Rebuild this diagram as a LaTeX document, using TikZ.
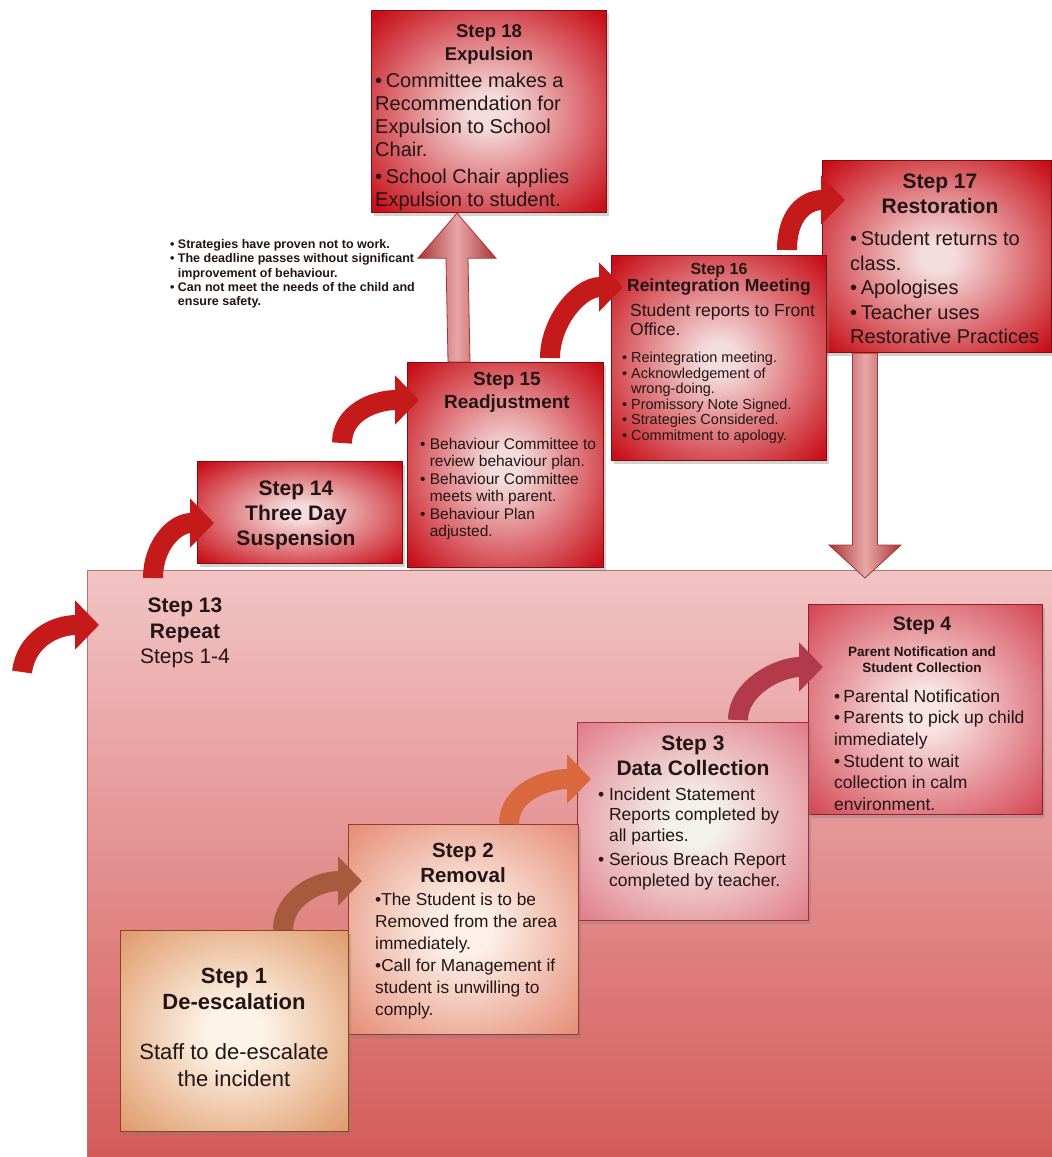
\documentclass[tikz,border=0pt]{standalone}
\usepackage{fontspec}
\setmainfont{Liberation Sans}
\usetikzlibrary{arrows.meta,shadows,calc}
\definecolor{txtc}{HTML}{231515}
\definecolor{gRin}{HTML}{F4DCDC}
\definecolor{gRout}{HTML}{C80E18}
\definecolor{g4in}{HTML}{F8E4E4}
\definecolor{g4out}{HTML}{D03644}
\definecolor{g3in}{HTML}{F4F0EC}
\definecolor{g3out}{HTML}{DC6070}
\definecolor{g2in}{HTML}{FCF0E8}
\definecolor{g2out}{HTML}{E0745A}
\definecolor{g1in}{HTML}{FDF4E8}
\definecolor{g1out}{HTML}{D8844C}
\definecolor{bdR}{HTML}{7E0D0D}
\definecolor{bd4}{HTML}{8E2030}
\definecolor{bd3}{HTML}{9A3040}
\definecolor{bd2}{HTML}{9A3A28}
\definecolor{bd1}{HTML}{8A4418}
\definecolor{pinkT}{HTML}{F2C4C4}
\definecolor{pinkB}{HTML}{D45A5A}
\definecolor{pinkBd}{HTML}{B87070}
\definecolor{arrR}{HTML}{C41A1A}
\definecolor{arr1}{HTML}{A85A3C}
\definecolor{arr2}{HTML}{D9683F}
\definecolor{arr3}{HTML}{B33A4A}
\definecolor{blkE}{HTML}{A83434}
\definecolor{blkM}{HTML}{E8A8A8}
\pgfdeclareradialshading{glowR}{\pgfpoint{0bp}{0bp}}{color(0bp)=(gRin); color(4bp)=(gRin); color(34bp)=(gRout); color(50bp)=(gRout)}
\pgfdeclareradialshading{glowF}{\pgfpoint{0bp}{0bp}}{color(0bp)=(g4in); color(5bp)=(g4in); color(38bp)=(g4out); color(50bp)=(g4out)}
\pgfdeclareradialshading{glowT}{\pgfpoint{0bp}{0bp}}{color(0bp)=(g3in); color(6bp)=(g3in); color(42bp)=(g3out); color(50bp)=(g3out)}
\pgfdeclareradialshading{glowW}{\pgfpoint{0bp}{0bp}}{color(0bp)=(g2in); color(6bp)=(g2in); color(42bp)=(g2out); color(50bp)=(g2out)}
\pgfdeclareradialshading{glowO}{\pgfpoint{0bp}{0bp}}{color(0bp)=(g1in); color(6bp)=(g1in); color(42bp)=(g1out); color(50bp)=(g1out)}
\newcommand\fsz[2]{\fontsize{#1}{#2}\selectfont}
\newcommand\blt{\makebox[0.62em][l]{•}}
\newcommand\hng{\hspace*{0.62em}}
\newcommand\bul{•\hspace{0.18em}}
\begin{document}
\begin{tikzpicture}[x=1pt,y=-1pt,
  boxstyle/.style 2 args={anchor=north west, draw=#1, line width=1.2pt, shade, shading=#2,
    drop shadow={shadow xshift=2pt, shadow yshift=-3pt, opacity=0.35}},
  ttl/.style={text=txtc, inner sep=0pt, align=center, anchor=north},
  bdy/.style={text=txtc, inner sep=0pt, align=left, anchor=north west},
  curarrow/.style={draw=#1, line width=20pt, -{Triangle[length=24pt,width=48pt]}},
  blockarrow/.style={draw=blkE, line width=0.8pt, left color=blkE, right color=blkE, middle color=blkM}
]
\useasboundingbox (0,0) rectangle (1052,1157);
\fill[white] (0,0) rectangle (1052,1157);

% big pink region (Step 13)
\node[anchor=north west, draw=pinkBd, line width=1pt, top color=pinkT, bottom color=pinkB,
  minimum width=966pt, minimum height=588pt, inner sep=0pt] (s13) at (87,570) {};

% boxes
\node[boxstyle={bdR}{glowR}, minimum width=235pt, minimum height=202pt] (s18) at (371,10) {};
\node[boxstyle={bdR}{glowR}, minimum width=229pt, minimum height=192pt] (s17) at (822,160) {};
\node[boxstyle={bdR}{glowR}, minimum width=215pt, minimum height=205pt] (s16) at (611,255) {};
\node[boxstyle={bdR}{glowR}, minimum width=196pt, minimum height=205pt] (s15) at (407,362) {};
\node[boxstyle={bdR}{glowR}, minimum width=205pt, minimum height=102pt] (s14) at (197,461) {};
\node[boxstyle={bd4}{glowF}, minimum width=234pt, minimum height=210pt] (s4) at (808,604) {};
\node[boxstyle={bd3}{glowT}, minimum width=231pt, minimum height=198pt] (s3) at (577,722) {};
\node[boxstyle={bd2}{glowW}, minimum width=230pt, minimum height=210pt] (s2) at (348,824) {};
\node[boxstyle={bd1}{glowO}, minimum width=228pt, minimum height=201pt] (s1) at (120,930) {};

% connector end points
\coordinate (a0s) at (22,672);
\coordinate (a0e) at ($(s13.north west)+(12,55)$);
\coordinate (a14s) at ($(s13.north west)+(66,8)$);
\coordinate (a14e) at ($(s14.north west)+(17,62)$);
\coordinate (a15s) at ($(s14.north west)+(145,-18)$);
\coordinate (a15e) at ($(s15.north west)+(12,38)$);
\coordinate (a16s) at ($(s15.north west)+(143,-4)$);
\coordinate (a16e) at ($(s16.north west)+(12,32)$);
\coordinate (a17s) at ($(s16.north west)+(176,-5)$);
\coordinate (a17e) at ($(s17.north west)+(23,40)$);
\coordinate (a2s) at ($(s1.north west)+(163,0)$);
\coordinate (a2e) at ($(s2.north west)+(14,57)$);
\coordinate (a3s) at ($(s2.north west)+(161,0)$);
\coordinate (a3e) at ($(s3.north west)+(14,57)$);
\coordinate (a4s) at ($(s3.north west)+(161,-2)$);
\coordinate (a4e) at ($(s4.north west)+(15,63)$);

% curved arrows
\draw[curarrow=arrR] (a0s) .. controls +(4,-32) and +(-45,0) .. (a0e);
\draw[curarrow=arrR] (a14s) .. controls +(0,-32) and +(-40,0) .. (a14e);
\draw[curarrow=arrR] (a15s) .. controls +(0,-30) and +(-45,0) .. (a15e);
\draw[curarrow=arrR] (a16s) .. controls +(0,-35) and +(-45,0) .. (a16e);
\draw[curarrow=arrR] (a17s) .. controls +(0,-35) and +(-40,0) .. (a17e);
\draw[curarrow=arr1] (a2s) .. controls +(0,-32) and +(-45,0) .. (a2e);
\draw[curarrow=arr2] (a3s) .. controls +(0,-32) and +(-45,0) .. (a3e);
\draw[curarrow=arr3] (a4s) .. controls +(0,-32) and +(-45,0) .. (a4e);

% block arrow up: Step 15 -> Step 18
\coordinate (ua) at ($(s15.north west)+(52,0)$);
\coordinate (ub) at ($(s18.south west)+(86,0)$);
\path[blockarrow] ($(ua)+(-11,0)$) -- ($(ub)+(-11,45)$) -- ($(ub)+(-39,45)$) -- (ub)
  -- ($(ub)+(39,45)$) -- ($(ub)+(11,45)$) -- ($(ua)+(11,0)$) -- cycle;
% block arrow down: Step 17 -> Step 13 region
\coordinate (da) at ($(s17.south west)+(43,0)$);
\coordinate (db) at ($(s13.north west)+(778,8)$);
\path[blockarrow] ($(da)+(-12.5,0)$) -- ($(db)+(-12.5,-33)$) -- ($(db)+(-36,-33)$) -- (db)
  -- ($(db)+(36,-33)$) -- ($(db)+(12.5,-33)$) -- ($(da)+(12.5,0)$) -- cycle;

% texts
\node[bdy, font=\bfseries\fsz{12.5}{14.2}] (notes) at (170,239.5)
  {\blt Strategies have proven not to work.\\\blt The deadline passes without significant\\\hng improvement of behaviour.\\\blt Can not meet the needs of the child and\\\hng ensure safety.};

\node[ttl, font=\bfseries\fsz{18.5}{23}] (t18) at (489,24) {Step 18\\Expulsion};
\node[bdy, font=\fsz{20}{23}] (b18) at (375,73)
  {\bul Committee makes a\\Recommendation for\\Expulsion to School\\Chair.\\[4pt]\bul School Chair applies\\Expulsion to student.};

\node[ttl, font=\bfseries\fsz{21}{25}] (t17) at (940,174) {Step 17\\Restoration};
\node[bdy, font=\fsz{20}{24.5}] (b17) at (850,231)
  {\bul Student returns to\\class.\\\bul Apologises\\\bul Teacher uses\\Restorative Practices};

\node[ttl, font=\bfseries\fsz{17.5}{17}] (t16) at (719,263) {{\fsz{16}{17}Step 16}\\Reintegration Meeting};
\node[bdy, font=\fsz{17.5}{18.5}] (b16a) at (630,304) {Student reports to Front\\Office.};
\node[bdy, font=\fsz{14.5}{15.5}] (b16b) at (622,352)
  {\blt Reintegration meeting.\\\blt Acknowledgement of\\\hng wrong-doing.\\\blt Promissory Note Signed.\\\blt Strategies Considered.\\\blt Commitment to apology.};

\node[ttl, font=\bfseries\fsz{19}{23}] (t15) at (507,372) {Step 15\\Readjustment};
\node[bdy, font=\fsz{15.5}{17.4}] (b15) at (420,438)
  {\blt Behaviour Committee to\\\hng review behaviour plan.\\\blt Behaviour Committee\\\hng meets with parent.\\\blt Behaviour Plan\\\hng adjusted.};

\node[ttl, font=\bfseries\fsz{21}{25}] (t14) at (296,481) {Step 14\\Three Day\\Suspension};

\node[ttl, font=\fsz{21}{25.5}] (t13) at (185,598) {\textbf{Step 13}\\\textbf{Repeat}\\Steps 1-4};

\node[ttl, font=\bfseries\fsz{19.5}{22}] (t4) at (922,617) {Step 4};
\node[ttl, font=\bfseries\fsz{13.5}{16}] (t4b) at (922,647) {Parent Notification and\\Student Collection};
\node[bdy, font=\fsz{17.5}{21.6}] (b4) at (834,689.5)
  {\bul Parental Notification\\\bul Parents to pick up child\\immediately\\\bul Student to wait\\collection in calm\\environment.};

\node[ttl, font=\bfseries\fsz{21}{25}] (t3) at (693,736) {Step 3\\Data Collection};
\node[bdy, font=\fsz{17.5}{20.5}] (b3) at (598,787.5)
  {\blt Incident Statement\\\hng Reports completed by\\\hng all parties.\\[4pt]\blt Serious Breach Report\\\hng completed by teacher.};

\node[ttl, font=\bfseries\fsz{20.5}{25}] (t2) at (463,843) {Step 2\\Removal};
\node[bdy, font=\fsz{17.3}{22}] (b2) at (375,892.5)
  {•The Student is to be\\Removed from the area\\immediately.\\•Call for Management if\\student is unwilling to\\comply.};

\node[ttl, font=\bfseries\fsz{22}{26}] (t1) at (234,967.5) {Step 1\\De-escalation};
\node[ttl, font=\fsz{22}{27}] (b1) at (234,1043.5) {Staff to de-escalate\\the incident};
\end{tikzpicture}
\end{document}
